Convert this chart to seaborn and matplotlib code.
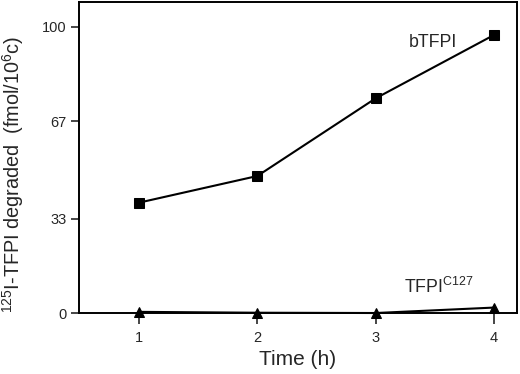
import matplotlib
matplotlib.use("Agg")
import matplotlib.pyplot as plt
import seaborn as sns
import pandas as pd

time_h = [1, 2, 3, 4]
btfpi = [38.6, 47.9, 75.0, 97.1]
tfpi_c127 = [0.5, 0.2, 0.1, 2.0]
y_ticks = [0, 33, 67, 100]
x_ticks = [1, 2, 3, 4]

sns.set_theme(style="white")
plt.rcParams['font.family'] = ['Liberation Sans', 'DejaVu Sans']
plt.rcParams['mathtext.fontset'] = 'custom'
plt.rcParams['mathtext.rm'] = 'Liberation Sans'
plt.rcParams['mathtext.it'] = 'Liberation Sans'

df = pd.DataFrame({
    "Time": time_h * 2,
    "value": btfpi + tfpi_c127,
    "series": ["bTFPI"] * 4 + ["TFPIC127"] * 4,
})

fig = plt.figure(figsize=(5.2, 3.74), dpi=100)
ax = fig.add_axes([79/520, 1 - 313.3/374, (516.5-79)/520, (313.3-2)/374])

sns.lineplot(data=df, x="Time", y="value", hue="series", style="series",
             markers={"bTFPI": "s", "TFPIC127": "^"}, dashes=False,
             palette={"bTFPI": "black", "TFPIC127": "black"},
             markersize=7, linewidth=1.5, legend=False, ax=ax, clip_on=False,
             markeredgecolor="black")

ax.set_xlim(0.493, 4.19)
ax.set_ylim(0, 108.6)
ax.set_xticks(x_ticks)
ax.set_yticks(y_ticks)
ax.tick_params(axis='x', direction='out', length=8, width=1.2, labelsize=10.5, pad=5, bottom=True)
ax.tick_params(axis='y', direction='out', length=6, width=1.2, labelsize=10.5, pad=3, left=True)
for s in ax.spines.values():
    s.set_linewidth(1.4)
    s.set_color("black")
    s.set_visible(True)

ax.set_xlabel("Time (h)", fontsize=15, labelpad=3)
ax.set_ylabel(r"$^{125}$I-TFPI degraded  (fmol/10$^{6}$c)", fontsize=14.3)
ax.yaxis.set_label_coords(-53/437.5, 0.446)

ax.text(3.485, 94.3, "bTFPI", fontsize=12.8, ha="center", va="center")
ax.text(3.536, 9.2, r"TFPI$^{\mathrm{C127}}$", fontsize=12.8, ha="center", va="center")

fig.savefig("out.png", dpi=100)
